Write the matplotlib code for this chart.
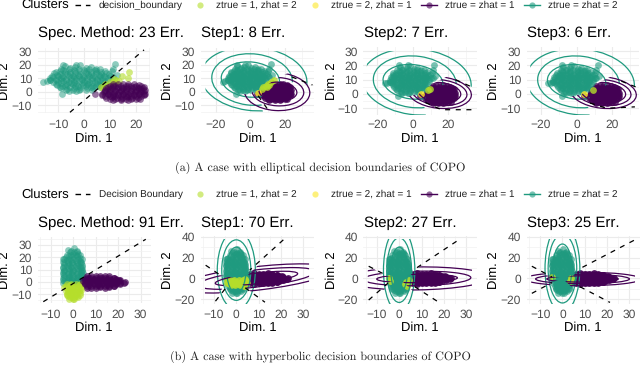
import matplotlib
matplotlib.use('Agg')
import matplotlib.pyplot as plt
from matplotlib.lines import Line2D
from matplotlib.patches import Ellipse
from matplotlib.path import Path
from matplotlib.ticker import AutoMinorLocator

plt.rcParams['font.family'] = ['Liberation Sans', 'DejaVu Sans']
plt.rcParams['text.hinting'] = 'no_hinting'
plt.rcParams['text.hinting_factor'] = 1

PURPLE = '#440154'
GREEN = '#1F9A7F'
LIME = '#B5DE2B'
YELLOW = '#FDE725'
W, H = 640, 365

# ---- point clouds, first row of panels
top_green_x = [-9, -7.5, -5.5, -3.5, -1.5, 0.5, 2.5, 4.5, 6,
               -11, -9.5, -7.5, -5.5, -3.5, -1.5, 0.5, 2.5, 4.5, 6.5, 8,
               -12.5, -10.5, -8.5, -6.5, -4.5, -2.5, -0.5, 1.5, 3.5, 5.5, 7.5, 9.5,
               -13, -11, -9, -7, -5, -3, -1, 1, 3, 5, 7, 9, 11,
               -12, -10, -8, -6, -4, -2, 0, 2, 4, 6, 8,
               -10.5, -8.5, -6.5, -4.5, -2.5, -0.5, 1.5, 3.5, 5.5,
               -9, -6.5, -4, -1.5, 1, 3.5, 6,
               -16, -14.5, -13, -8.5, -6, -3, 11, 12, 10.5, 12.5, -8, -3,
               -8, -6, -4, -2, 0, 2, 4,
               -11.5, -9.5, -7.5, -5.5, -3.5, -1.5, 0.5, 2.5, 4.5, 6.5, 8.5,
               -12, -10, -8, -6, -4, -2, 0, 2, 4, 6, 8, 10,
               -13, -11, -9, -7, -5, -3, -1, 1, 3, 5, 7, 9,
               -11, -9, -7, -5, -3, -1, 1, 3, 5, 7,
               -9.5, -7.5, -5.5, -3.5, -1.5, 0.5, 2.5, 4.5, 6.5,
               -7, -4.5, -2, 0.5, 3]
top_green_y = [17, 19, 17.5, 18.5, 19.5, 17.5, 18, 17, 16.5,
               14.5, 15, 15.5, 14.5, 15.5, 15, 15.5, 14.5, 15, 14.5, 15.5,
               12, 12.5, 12, 13, 12, 12.5, 12, 13, 12, 12.5, 12, 13,
               10, 9.5, 10.5, 9.5, 10, 10.5, 9.5, 10, 10.5, 9.5, 10, 10.5, 11,
               7.5, 7, 8, 7, 7.5, 8, 7, 7.5, 7, 8, 7,
               5, 4.5, 5, 5.5, 4.5, 5, 5.5, 4.5, 5,
               2.5, 2, 3, 2, 2.5, 3, 3.5,
               7.5, 8, 8.5, -1.5, 0.5, 0.5, 17, 20.5, 15, 12.5, 20, 20,
               16, 16.5, 16, 16.5, 16, 16.5, 16,
               13.5, 13, 13.5, 13, 13.5, 13, 13.5, 13, 13.5, 13, 13.5,
               11, 11.5, 11, 11.5, 11, 11.5, 11, 11.5, 11, 11.5, 11, 11.5,
               8.5, 9, 8.5, 9, 8.5, 9, 8.5, 9, 8.5, 9, 8.5, 9,
               6, 6.5, 6, 6.5, 6, 6.5, 6, 6.5, 6, 6.5,
               3.5, 4, 3.5, 4, 3.5, 4, 3.5, 4, 5,
               1, 1.5, 1, 1.5, 1.5]

top_purple_x = [11, 13, 15, 17, 19, 21,
                9, 11, 13, 15, 17, 19, 21, 23,
                8, 10, 12, 14, 16, 18, 20, 22, 23.5,
                7.5, 9.5, 11.5, 13.5, 15.5, 17.5, 19.5, 21.5, 23.5,
                7, 9, 11, 13, 15, 17, 19, 21, 23,
                8.5, 10.5, 12.5, 14.5, 16.5, 18.5, 20.5, 21.5,
                11, 14, 17, 4,
                10, 12, 14, 16, 18, 20, 22,
                8.5, 10.5, 12.5, 14.5, 16.5, 18.5, 20.5, 22.5,
                8, 10, 12, 14, 16, 18, 20, 22, 23,
                7, 9, 11, 13, 15, 17, 19, 21, 23,
                8, 10, 12, 14, 16, 18, 20, 22,
                10, 12, 14, 16, 18, 20]
top_purple_y = [5.5, 6, 5.5, 6, 5.5, 5,
                3.5, 4, 3.5, 3, 4, 3.5, 3, 3.5,
                1.5, 2, 1, 1.5, 2, 1, 1.5, 2, 1,
                -0.5, 0, -1, -0.5, 0, -1, -0.5, 0, -1.5,
                -2.5, -2, -3, -2.5, -2, -3, -2.5, -2, -2.5,
                -4.5, -4, -5, -4.5, -4, -5, -4.5, -5.5,
                -6, -6, -6, -1.5,
                4.5, 4.5, 4.5, 4.5, 4.5, 4.5, 4,
                2.5, 2.5, 2.5, 2.5, 2.5, 2.5, 2.5, 2.5,
                0.5, 0.5, 0.5, 0.5, 0.5, 0.5, 0.5, 0.5, 0.5,
                -1.5, -1.5, -1.5, -1.5, -1.5, -1.5, -1.5, -1.5, -1.5,
                -3.5, -3.5, -3.5, -3.5, -3.5, -3.5, -3.5, -3.5,
                -5.5, -5.5, -5.5, -5.5, -5.5, -5.5]

spec_top_lime_x = [17.3, 17, 14.7, 12.4, 11, 9.8, 8.5, 7.2, 10, 12, 8, 6.5, 13.5, 11.5, 9.5]
spec_top_lime_y = [14.8, 10.5, 11.9, 8.7, 7, 4.9, 4, 2.7, 7.5, 6.5, 6, 3.5, 8, 9.5, 2.5]
step1_top_lime_x = [13.5, 12, 10.5, 9, 7.5, 6.5, 11, 9.5]
step1_top_lime_y = [8.5, 7, 6, 4.5, 3.5, 2, 5, 3.5]
step1_top_yellow_x = [4.6]
step1_top_yellow_y = [-0.7]
step2_top_lime_x = [8.6, 9.4]
step2_top_lime_y = [2.8, 3.8]
step2_top_yellow_x = [4.5]
step2_top_yellow_y = [-0.2]
step3_top_lime_x = [8.9]
step3_top_lime_y = [2.8]
step3_top_yellow_x = [4]
step3_top_yellow_y = [0]

# ---- point clouds, second row of panels
bot_green_x = [0.3, -1, 1.5, -2.2, 0, 2,
               -3.5, -1.8, 0, 1.8, 3,
               -4.7, -3, -1, 1, 3,
               -4.2, -2.5, -0.5, 1.5, 3.5,
               -4.5, -3, -1, 1, 3, 4,
               -4, -2, 0, 2, 4,
               -4.5, -2.5, -0.5, 1.5, 3.5, 4.5,
               -4, -2, 0, 2, 4,
               -4.5, -2.5, -0.5, 1.5, 3.5, 5,
               -4, -2, 0, 2, 4,
               -4.5, -3, -1, 1, 3, 4.5,
               -1.5, 0.5, 1.8,
               -3, -1, 1, 2.8,
               -4, -2, 0, 2, 3.7,
               -4.5, -2.5, -0.5, 1.5, 3.5,
               -4, -2, 0, 2, 4,
               -4.5, -2.5, -0.5, 1.5, 3.5,
               -4, -2, 0, 2, 4,
               -4.5, -2.5, -0.5, 1.5, 3.5,
               -4, -2, 0, 2, 4,
               -4.5, -2.5, -0.5, 1.5, 3.5,
               -3.5, -1.5, 0.5, 2.5, 4.5]
bot_green_y = [27.8, 25, 25.5, 26, 23, 23,
               20, 21, 20.5, 21, 19.5,
               19, 17.5, 18, 17.5, 17,
               15, 15.5, 15, 15.5, 15,
               12.5, 13, 12.5, 13, 12.5, 12,
               10, 10.5, 10, 10.5, 10,
               8, 7.5, 8, 7.5, 8, 7.5,
               5.5, 5, 5.5, 5, 5.5,
               3, 3.5, 3, 3.5, 3, 3.5,
               1, 1.5, 1, 1.5, 1,
               -1, -0.5, -1, -0.5, -1, 0,
               24, 24, 24,
               22, 22, 22, 22,
               18.5, 18.5, 18.5, 18.5, 18.5,
               16, 16, 16, 16, 16,
               14, 14, 14, 14, 14,
               11.5, 11.5, 11.5, 11.5, 11.5,
               9, 9, 9, 9, 9,
               6.5, 6.5, 6.5, 6.5, 6.5,
               4, 4, 4, 4, 4,
               2, 2, 2, 2, 2,
               0, 0, 0, 0, 0]
# the lower part of the tower: lime in the first panel, green or lime later
bot_low_x = [-3.5, -1.5, 0.5, 2.5, 4.5,
             -3, -1, 1, 3,
             -3.5, -1.5, 0.5, 2.5,
             -3, -1, 1, 3,
             -2.5, -0.5, 1.5,
             -2, 0, 2, 0.5,
             -3, -1, 1, 3,
             -4, -2, 0, 2, 4,
             -2.5, -0.5, 1.5, 3.5,
             -2.5, -0.5, 1.5,
             -3, -1, 1, 3,
             -1.5, 0.5]
bot_low_y = [-3, -2.5, -3, -2.5, -2,
             -5, -5.5, -5, -5.5,
             -7.5, -7, -7.5, -7,
             -9.5, -10, -9.5, -9,
             -11.5, -12, -11.5,
             -13.5, -13.5, -12.5, -14,
             -1.5, -1.5, -1.5, -1.5,
             -4, -4, -4, -4, -3.5,
             -6.5, -6.5, -6.5, -6.5,
             -8.5, -8.5, -8.5,
             -10.5, -10.5, -10.5, -10.5,
             -12.5, -12.5]
step1_bot_lime_x = [-3.5, -1.5, 0.5, 2.5, 4.5, -3, -1, 1, 3, 5, -4, 3.5, 4,
                    -3, -1, 1, 3, -4, -2, 0, 2, 4, -2.5, -0.5, 1.5, 3.5]
step1_bot_lime_y = [-3, -2.5, -3, -2.5, -2, -5, -5.5, -5, -5.5, -4, -1.5, -7, -1,
                    -1.5, -1.5, -1.5, -1.5, -4, -4, -4, -4, -3.5, -6.5, -6.5, -6.5, -6.5]
step2_bot_lime_x = [3, 4, 3.5, 2.5, 4.5, -4.5, -4]
step2_bot_lime_y = [-3, -5, -7, -5.5, -1.5, 0.5, -2]
step3_bot_lime_x = [3.5, 4, -4.5]
step3_bot_lime_y = [-2, 0, 1.5]

bot_purple_x = [6, 8, 10, 12, 14, 16, 18,
                5, 7, 9, 11, 13, 15, 17, 19, 20.5,
                4.5, 6.5, 8.5, 10.5, 12.5, 14.5, 16.5, 18.5, 20.5, 23,
                5, 7, 9, 11, 13, 15, 17, 19, 21,
                6, 8, 10, 12, 14, 16, 18,
                6, 8, 10, 12, 14, 16, 18,
                5, 7, 9, 11, 13, 15, 17, 19, 21,
                5, 7, 9, 11, 13, 15, 17, 19, 21, 22.5,
                6, 8, 10, 12, 14, 16, 18]
bot_purple_y = [4.5, 5, 4.5, 4.5, 5, 4.5, 3.5,
                2.5, 3, 2.5, 2, 3, 2.5, 2, 2.5, 2,
                0.5, 0, 0.5, 0, 0.5, 0, 0.5, 0, 0.5, 0,
                -2, -2.5, -2, -2.5, -2, -2.5, -2, -2, -1.5,
                -4.5, -5, -4.5, -4, -4.5, -4, -3.5,
                3.5, 3.5, 3.5, 3.5, 3.5, 3.5, 3.5,
                1.5, 1.5, 1.5, 1.5, 1.5, 1.5, 1.5, 1.5, 1.5,
                -1, -1, -1, -1, -1, -1, -1, -1, -1, -1,
                -3.5, -3.5, -3.5, -3.5, -3.5, -3.5, -3]

# ---- contour levels: centre x, centre y, width, height, angle
step1_top_green = [(0, 9, 34, 26, -10), (1, 9, 47, 38, -10), (2, 9.5, 62, 47, -10)]
step1_top_purple = [(16, 0, 22, 14, -5), (16, 0, 30, 21, -5), (15.5, 0, 38, 28, -5)]
step2_top_green = [(0, 8.5, 34, 24, -10), (1, 8.5, 47, 36, -10), (2, 8.5, 62, 46, -10)]
step2_top_purple = [(15, 1, 24, 14, -8), (15, 1, 31, 18, -8), (15, 1, 36, 22, -8)]
step3_top_green = [(0, 8.5, 33, 24, -10), (1, 8.5, 46, 36, -10), (2, 8.5, 61, 46, -10)]
step3_top_purple = [(15, 1, 25, 14, -8), (15, 1, 31, 18, -8), (15, 1, 37, 22, -8)]
step1_bot_green = [(0, 8, 8.6, 44, 0), (0, 8, 13, 58, 0), (0, 8, 17, 76, 0)]
step1_bot_purple = [(9, 0, 38, 10, 15), (9, 0, 54, 16, 15), (9, 0, 70, 22, 15)]
step2_bot_green = [(0, 8, 7.5, 44, 0), (0, 8, 11, 62, 0), (0, 8, 14, 80, 0)]
step2_bot_purple = [(8, 0, 36, 8, 2), (8, 0, 48, 14, 2), (8, 0, 64, 22, 2)]
step3_bot_green = [(0, 9.5, 8.5, 47, 0), (0, 9.5, 12.8, 66, 0), (0, 9.5, 15.6, 84, 0)]
step3_bot_purple = [(9, -0.5, 32, 6, 0), (9, -0.5, 42, 9, 0), (9, -0.5, 52, 13, 0)]

# ---- decision boundaries, each one a list of dashed pieces
spec_top_bound = [[(-5.5, -15.3), (23, 31)]]
step1_top_bound = [[(4.5, -3), (10, -13)], [(24, 11), (36, 5)]]
step2_top_bound = [[(7, -6), (16, -11), (33, -11)], [(24, 10), (33, 5)]]
step3_top_bound = [[(7.4, -6.3), (16.8, -10), (32.6, -9)], [(25, 9), (33, 5)]]
spec_bot_bound = [[(-13.4, -16), (32.3, 34.6)]]
step1_bot_bound = [[(-13.7, 12.7), (-7, 3)], [(-5, -10), (-9.5, -22.3)],
                   [(21, 37), (6, 8)], [(4, -9), (12.8, -22.8)]]
step2_bot_bound = [[(-13.6, 11.7), (-5.7, 3)], [(-13.6, -20.7), (-5, -4.5)],
                   [(25.6, 35.6), (6.3, 8)], [(7, -8), (17.8, -23)]]
step3_bot_bound = [[(-13.7, 11.7), (-4.7, 1.5)], [(-13.7, -14.3), (-4.7, -4)],
                   [(32, 36.5), (7.9, 9.5)], [(7.9, -8), (21.3, -23)]]

# regions in which each family of contours shows
green_top_clip = [(8, -20), (6, -6), (9, 2), (18, 7), (28, 7), (38, 3), (38, 30), (-26, 30), (-26, -20)]
purple_top_clip = [(-4, -2), (6, 1), (14, 9), (22, 14), (36, 10), (36, -20), (-4, -20)]
green_bot_clip = [(-20, -24.5), (20, -24.5), (20, 38), (-20, 38)]
purple_bot_clip = [(0, 0), (5, 3), (22, 38), (32.5, 38), (32.5, -25), (13, -25), (4, -8), (0, 0),
                   (-5, -4), (-10, -25), (-14, -25), (-14, 13), (-7, 3), (0, 0)]

titles = ['Spec. Method: 23 Err.', 'Step1: 8 Err.', 'Step2: 7 Err.', 'Step3: 6 Err.',
          'Spec. Method: 91 Err.', 'Step1: 70 Err.', 'Step2: 27 Err.', 'Step3: 25 Err.']
top_legend = ['decision_boundary', 'ztrue = 1, zhat = 2', 'ztrue = 2, zhat = 1', 'ztrue = zhat = 1', 'ztrue = zhat = 2']
bot_legend = ['Decision Boundary', 'ztrue = 1, zhat = 2', 'ztrue = 2, zhat = 1', 'ztrue = zhat = 1', 'ztrue = zhat = 2']
caption_a = '(a) A case with elliptical decision boundaries of COPO'
caption_b = '(b) A case with hyperbolic decision boundaries of COPO'

fig = plt.figure(figsize=(W / 100, H / 100), dpi=100)


def make_axes(left, right, top, bottom, xlim, ylim, xticks, yticks, xpad=4.5):
    ax = fig.add_axes([left / W, 1 - bottom / H, (right - left) / W, (bottom - top) / H])
    ax.set_xlim(xlim)
    ax.set_ylim(ylim)
    ax.set_xticks(xticks)
    ax.set_yticks(yticks)
    ax.xaxis.set_minor_locator(AutoMinorLocator(2))
    ax.yaxis.set_minor_locator(AutoMinorLocator(2))
    ax.grid(which='major', color='#EBEBEB', lw=0.8)
    ax.grid(which='minor', color='#F1F1F1', lw=0.5)
    ax.set_axisbelow(True)
    ax.tick_params(which='both', length=0)
    ax.tick_params(axis='x', labelsize=8.4, labelcolor='#4D4D4D', pad=xpad)
    ax.tick_params(axis='y', labelsize=8.4, labelcolor='#4D4D4D', pad=4)
    for s in ax.spines.values():
        s.set_visible(False)
    return ax


def dots(ax, x, y, color, alpha):
    ax.scatter(x, y, s=24, color=color, alpha=alpha, linewidths=0)


def contours(ax, levels, color, clip):
    for cx, cy, w, h, ang in levels:
        e = Ellipse((cx, cy), w, h, angle=ang, fill=False, edgecolor=color, lw=0.9)
        ax.add_patch(e)
        e.set_clip_path(Path(clip), ax.transData)


def bounds(ax, pieces):
    for piece in pieces:
        ax.plot([p[0] for p in piece], [p[1] for p in piece], color='black', lw=0.9,
                dashes=(4, 4.5))


tx = [-10, 0, 10, 20]
tx2 = [-20, 0, 20]
ty = [-10, 0, 10, 20, 30]
bx = [-10, 0, 10, 20, 30]
by2 = [-20, 0, 20, 40]

# first row
ax1 = make_axes(37.7, 150, 48, 113, (-17.9, 25.3), (-15.8, 32.4), tx, ty)
ax2 = make_axes(200.7, 314, 48, 113, (-28.8, 36.9), (-15.8, 32.4), tx2, ty)
ax3 = make_axes(363.3, 476.7, 47, 115, (-28, 35.9), (-14.7, 32.9), tx2, ty, xpad=3)
ax4 = make_axes(526.7, 639, 47, 115, (-28, 34.9), (-14.7, 32.9), tx2, ty, xpad=3)

dots(ax1, top_green_x, top_green_y, GREEN, 0.5)
dots(ax1, spec_top_lime_x, spec_top_lime_y, LIME, 0.6)
dots(ax1, top_purple_x, top_purple_y, PURPLE, 0.55)
bounds(ax1, spec_top_bound)

top_steps = [(ax2, step1_top_lime_x, step1_top_lime_y, step1_top_yellow_x, step1_top_yellow_y,
              step1_top_green, step1_top_purple, step1_top_bound),
             (ax3, step2_top_lime_x, step2_top_lime_y, step2_top_yellow_x, step2_top_yellow_y,
              step2_top_green, step2_top_purple, step2_top_bound),
             (ax4, step3_top_lime_x, step3_top_lime_y, step3_top_yellow_x, step3_top_yellow_y,
              step3_top_green, step3_top_purple, step3_top_bound)]
for ax, lx, ly, yx, yy, gl, pl, bd in top_steps:
    dots(ax, top_purple_x, top_purple_y, PURPLE, 0.8)
    dots(ax, top_green_x, top_green_y, GREEN, 0.6)
    dots(ax, lx, ly, LIME, 0.8)
    dots(ax, yx, yy, YELLOW, 0.8)
    contours(ax, gl, GREEN, green_top_clip)
    contours(ax, pl, PURPLE, purple_top_clip)
    bounds(ax, bd)

# second row
ax5 = make_axes(37.7, 150.7, 237.3, 302.7, (-15.9, 34.5), (-16.8, 36.2), bx, ty)
ax6 = make_axes(200.7, 314, 236.3, 304, (-15.9, 34.7), (-24.5, 40.4), bx, by2, xpad=3.5)
ax7 = make_axes(363.3, 476.7, 236.3, 304, (-16, 34.6), (-24.5, 40.4), bx, by2, xpad=3.5)
ax8 = make_axes(526.7, 639.7, 236.3, 304, (-16, 34.6), (-24.5, 40.4), bx, by2, xpad=3.5)

dots(ax5, bot_green_x, bot_green_y, GREEN, 0.5)
dots(ax5, bot_low_x, bot_low_y, LIME, 0.6)
dots(ax5, bot_purple_x, bot_purple_y, PURPLE, 0.7)
bounds(ax5, spec_bot_bound)

bot_steps = [(ax6, step1_bot_lime_x, step1_bot_lime_y, step1_bot_green, step1_bot_purple, step1_bot_bound),
             (ax7, step2_bot_lime_x, step2_bot_lime_y, step2_bot_green, step2_bot_purple, step2_bot_bound),
             (ax8, step3_bot_lime_x, step3_bot_lime_y, step3_bot_green, step3_bot_purple, step3_bot_bound)]
for ax, lx, ly, gl, pl, bd in bot_steps:
    dots(ax, bot_purple_x, bot_purple_y, PURPLE, 0.9)
    dots(ax, bot_green_x, bot_green_y, GREEN, 0.6)
    dots(ax, bot_low_x, bot_low_y, GREEN, 0.6)
    dots(ax, lx, ly, LIME, 0.85)
    contours(ax, gl, GREEN, green_bot_clip)
    contours(ax, pl, PURPLE, purple_bot_clip)
    bounds(ax, bd)

# everything outside the panels goes on one overlay in pixel units
ov = fig.add_axes([0, 0, 1, 1], zorder=5)
ov.set_xlim(0, W)
ov.set_ylim(H, 0)
ov.axis('off')
ov.patch.set_alpha(0)

panel_left = [37.7, 200.7, 363.3, 526.7]
panel_mid = [93.8, 257.3, 420, 582.8]
ylabel_x = [5, 168, 332, 494]
for i in range(4):
    ov.text(panel_left[i] + 0.3, 33, titles[i], fontsize=10.7, va='center', ha='left')
    ov.text(panel_left[i] + 0.3, 222.7, titles[i + 4], fontsize=10.7, va='center', ha='left')
    ov.text(panel_mid[i], 138.5, 'Dim. 1', fontsize=9.4, va='center', ha='center')
    ov.text(panel_mid[i], 328, 'Dim. 1', fontsize=9.4, va='center', ha='center')
    ov.text(ylabel_x[i], 81, 'Dim. 2', fontsize=9.4, va='center', ha='center', rotation=90)
    ov.text(ylabel_x[i], 270.7, 'Dim. 2', fontsize=9.4, va='center', ha='center', rotation=90)


def legend_row(y, labels):
    ov.text(21, y, 'Clusters', fontsize=9.4, va='center', ha='left')
    ov.add_line(Line2D([75, 90], [y, y], color='black', lw=1.0, dashes=(4, 3.5)))
    ov.text(99, y, labels[0], fontsize=7.3, color='#222222', va='center', ha='left')
    ov.scatter([200], [y], s=20, color=LIME, alpha=0.6, linewidths=0)
    ov.text(216, y, labels[1], fontsize=7.3, color='#222222', va='center', ha='left')
    ov.scatter([315], [y], s=20, color=YELLOW, alpha=0.6, linewidths=0)
    ov.text(330.7, y, labels[2], fontsize=7.3, color='#222222', va='center', ha='left')
    ov.add_line(Line2D([421, 437], [y, y], color=PURPLE, lw=1.0))
    ov.scatter([429], [y], s=20, color=PURPLE, alpha=0.6, linewidths=0)
    ov.text(445, y, labels[3], fontsize=7.3, color='#222222', va='center', ha='left')
    ov.add_line(Line2D([524, 540], [y, y], color=GREEN, lw=1.0))
    ov.scatter([532], [y], s=20, color=GREEN, alpha=0.6, linewidths=0)
    ov.text(548, y, labels[4], fontsize=7.3, color='#222222', va='center', ha='left')


legend_row(5, top_legend)
legend_row(194.3, bot_legend)

ov.text(320, 167.5, caption_a, family='cmr10', fontsize=8.7, color='#222222', va='center', ha='center')
ov.text(320, 357, caption_b, family='cmr10', fontsize=8.7, color='#222222', va='center', ha='center')

fig.savefig('out.png', dpi=100)
